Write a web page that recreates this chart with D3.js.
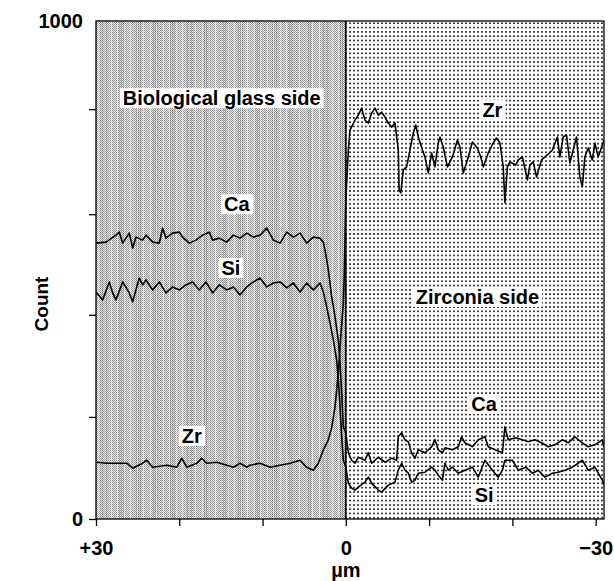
<!DOCTYPE html>
<html>
<head>
<meta charset="utf-8">
<script src="https://cdn.jsdelivr.net/npm/d3@7"></script>
<style>
  body { margin: 0; background: #fff; }
  text { font-family: "Liberation Sans", Arial, sans-serif; font-weight: bold; fill: #000; }
</style>
</head>
<body>
<svg id="chart" width="614" height="581"></svg>
<script>
// --- data (distance in µm, counts) ---
const xTicks = [30, 20, 10, 0, -10, -20, -30];
const xTickText = ["+30", "", "", "0", "", "", "\u221230"];
const yTicks = [0, 205, 410, 612, 823, 1000];
const yTickText = ["0", "", "", "", "", "1000"];

const ca = [
  [30.0,554],[28.8,556],[27.6,570],[27.2,576],[26.8,554],[26.0,574],[25.6,544],[25.2,566],[24.4,560],[24.0,570],
  [23.2,556],[22.4,554],[22.0,584],[21.6,564],[20.8,574],[20.0,576],[19.6,566],[18.8,554],[18.0,560],[17.2,570],
  [16.4,576],[16.0,560],[15.2,564],[14.3,556],[13.5,570],[12.7,564],[11.9,574],[11.1,566],[10.3,570],[9.5,584],
  [8.7,560],[7.9,554],[7.1,576],[6.3,566],[5.5,574],[4.7,554],[3.9,566],[3.1,564],[2.7,556],[2.5,540],
  [2.1,500],[1.7,446],[1.3,406],[0.9,359],[0.7,313],[0.5,253],[0.3,185],
  [0,173],[-0.3,133],[-0.7,118],[-1.1,112],[-1.5,124],[-2.3,118],[-2.7,133],[-3.1,112],[-3.9,124],[-4.7,114],
  [-5.5,122],[-6.1,118],[-6.3,165],[-6.7,173],[-7.1,159],[-7.5,155],[-7.9,133],[-8.3,122],[-8.7,139],[-9.5,133],
  [-10.3,145],[-10.7,159],[-11.1,139],[-11.6,133],[-11.9,143],[-12.8,139],[-13.5,145],[-13.9,165],[-14.3,153],
  [-15.2,145],[-15.9,159],[-16.7,165],[-17.1,145],[-17.9,139],[-18.8,133],[-19.1,185],[-19.5,159],[-20.4,163],
  [-21.2,159],[-21.9,155],[-22.7,159],[-23.5,153],[-24.3,145],[-25.1,149],[-26.0,159],[-26.7,153],[-27.5,165],
  [-28.4,153],[-29.1,145],[-29.9,149],[-30.8,159],[-31.0,145]
];

const si = [
  [30.0,456],[29.2,440],[28.4,476],[28.0,454],[27.6,440],[26.8,476],[26.0,454],[25.6,436],[24.8,484],[24.4,470],
  [24.0,480],[23.2,460],[22.4,476],[21.6,454],[20.8,466],[20.0,460],[19.2,470],[18.4,476],[17.6,460],[16.8,476],
  [16.0,454],[15.2,470],[14.3,460],[13.5,466],[12.7,450],[11.9,466],[11.1,476],[10.3,484],[9.5,466],[8.7,474],
  [7.9,476],[7.1,464],[6.3,474],[5.5,456],[4.7,474],[3.9,460],[3.1,474],[2.7,456],[2.3,426],[1.9,394],
  [1.5,359],[1.1,319],[0.9,279],[0.7,225],[0.5,165],[0.3,118],
  [0,104],[-0.3,72],[-0.7,62],[-1.1,58],[-1.5,64],[-2.3,74],[-2.7,84],[-3.1,72],[-3.9,58],[-4.3,54],
  [-5.1,68],[-5.9,74],[-6.3,98],[-6.7,112],[-7.1,98],[-7.5,92],[-7.9,74],[-8.3,78],[-8.7,92],[-9.5,94],
  [-10.3,104],[-10.7,98],[-11.1,88],[-11.6,78],[-11.9,112],[-12.3,98],[-12.8,104],[-13.5,92],[-14.3,98],
  [-15.2,104],[-15.9,84],[-16.7,118],[-17.6,98],[-18.3,84],[-18.8,98],[-19.1,118],[-20.0,118],[-20.7,98],
  [-21.6,104],[-22.4,92],[-23.1,98],[-23.9,84],[-24.8,92],[-25.5,94],[-26.3,98],[-27.2,104],[-27.9,112],
  [-28.4,118],[-29.1,98],[-29.9,104],[-30.8,78],[-31.0,68]
];

const zr = [
  [29.9,114],[28.7,112],[27.5,112],[26.3,112],[25.6,102],[24.4,112],[23.9,118],[23.2,104],[21.5,108],[20.3,104],
  [19.7,122],[19.1,104],[17.9,112],[17.3,122],[16.7,112],[15.5,114],[14.3,108],[13.5,104],[12.7,112],[11.9,104],
  [11.5,108],[10.3,112],[9.1,104],[7.9,108],[6.7,112],[5.5,118],[4.7,104],[3.9,98],[3.3,112],[2.7,139],
  [2.1,159],[1.7,183],[1.3,225],[0.9,293],[0.7,345],[0.3,434],[0.2,486],
  [0.0,640],[-0.3,741],[-0.5,781],[-1.1,801],[-1.5,811],[-1.9,825],[-2.3,801],[-2.7,795],[-3.1,815],[-3.5,825],
  [-3.9,811],[-4.3,817],[-4.7,807],[-5.1,795],[-5.5,787],[-5.9,795],[-6.3,741],[-6.4,661],[-6.6,655],[-6.9,701],
  [-7.3,707],[-7.7,741],[-8.1,775],[-8.4,791],[-8.7,767],[-9.2,741],[-9.5,727],[-9.9,695],[-10.3,735],[-10.7,707],
  [-11.1,755],[-11.3,767],[-11.7,747],[-12.2,707],[-12.8,727],[-13.4,761],[-13.7,747],[-14.1,695],[-14.6,721],
  [-15.2,757],[-15.8,745],[-16.2,727],[-16.5,707],[-17.1,735],[-17.7,755],[-18.1,765],[-18.5,755],[-18.9,707],
  [-19.1,635],[-19.4,707],[-19.7,717],[-20.4,711],[-20.7,721],[-21.2,727],[-21.8,681],[-22.1,711],[-22.5,717],
  [-22.9,687],[-23.5,721],[-24.2,731],[-24.8,741],[-25.4,767],[-25.7,727],[-26.1,767],[-26.5,771],[-26.9,715],
  [-27.3,741],[-27.7,767],[-28.1,687],[-28.4,667],[-28.7,727],[-29.1,745],[-29.6,721],[-29.9,755],[-30.3,727],
  [-30.8,751],[-31.0,761]
];

// annotation labels: text and where they sit (µm, counts)
const noteText = ["Biological glass side", "Zr", "Ca", "Si", "Zr", "Zirconia side", "Ca", "Si"];
const noteAt = [[14.9,845],[-17.6,821],[13.1,632],[13.8,504],[18.5,167],[-15.8,446],[-16.6,231],[-16.6,48]];

// --- layout ---
const svg = d3.select("#chart");
const x = d3.scaleLinear().domain([30, -31]).range([96, 604]);
const y = d3.scaleLinear().domain([0, 1000]).range([519, 21]);

const defs = svg.append("defs");

// fine halftone for the glass side
const pg = defs.append("pattern").attr("id", "glass").attr("patternUnits", "userSpaceOnUse")
  .attr("width", 2).attr("height", 2);
pg.append("rect").attr("width", 2).attr("height", 2).attr("fill", "#ececec");
pg.append("rect").attr("x", 0).attr("y", 0).attr("width", 1).attr("height", 1).attr("fill", "#8c8c8c");
pg.append("rect").attr("x", 1).attr("y", 1).attr("width", 1).attr("height", 1).attr("fill", "#9c9c9c");

// dot screen for the zirconia side
const pz = defs.append("pattern").attr("id", "zirc").attr("patternUnits", "userSpaceOnUse")
  .attr("width", 4).attr("height", 4.3);
pz.append("rect").attr("width", 4).attr("height", 4.3).attr("fill", "#fff");
pz.append("rect").attr("x", 1).attr("y", 1).attr("width", 2).attr("height", 1.6).attr("fill", "#333");

defs.append("clipPath").attr("id", "plot")
  .append("rect").attr("x", x(30)).attr("y", y(1000)).attr("width", x(-31) - x(30)).attr("height", y(0) - y(1000));

const bg = svg.append("g").attr("shape-rendering", "crispEdges");
bg.append("rect").attr("x", x(30)).attr("y", y(1000)).attr("width", x(0) - x(30)).attr("height", y(0) - y(1000))
  .attr("fill", "url(#glass)");
bg.append("rect").attr("x", x(0)).attr("y", y(1000)).attr("width", x(-31) - x(0)).attr("height", y(0) - y(1000))
  .attr("fill", "url(#zirc)");

// vertical scan streaks in the glass side
const cols = d3.range(Math.ceil(x(30)), Math.floor(x(0)));
bg.selectAll(".streak").data(cols.filter(c => (c * 7919) % 13 < 2)).join("rect")
  .attr("x", d => d).attr("y", y(1000)).attr("width", 1).attr("height", y(0) - y(1000))
  .attr("fill", "#fff").attr("opacity", 0.5);
bg.selectAll(".dark").data(cols.filter(c => (c * 104729) % 17 < 3)).join("rect")
  .attr("x", d => d).attr("y", y(1000)).attr("width", 1).attr("height", y(0) - y(1000))
  .attr("fill", "#000").attr("opacity", 0.12);

// interface line
svg.append("line").attr("x1", x(0)).attr("x2", x(0)).attr("y1", y(1000)).attr("y2", y(0))
  .attr("stroke", "#000").attr("stroke-width", 1.6);

// traces
const line = d3.line().x(d => x(d[0])).y(d => y(d[1]));
const traces = svg.append("g").attr("clip-path", "url(#plot)");
[ca, si, zr].forEach(s => {
  traces.append("path").datum(s).attr("d", line)
    .attr("fill", "none").attr("stroke", "#000").attr("stroke-width", 1.6).attr("stroke-linejoin", "round");
});

// labels on white boxes
noteText.forEach((t, i) => {
  const g = svg.append("g");
  const tx = g.append("text").attr("x", x(noteAt[i][0])).attr("y", y(noteAt[i][1]))
    .attr("text-anchor", "middle").attr("dominant-baseline", "central")
    .style("font-size", "20px").text(t);
  const b = tx.node().getBBox();
  g.insert("rect", "text").attr("x", b.x - 3).attr("y", b.y + 1).attr("width", b.width + 6).attr("height", b.height - 2)
    .attr("fill", "#fff");
});

// frame
svg.append("rect").attr("x", x(30)).attr("y", y(1000)).attr("width", x(-31) - x(30)).attr("height", y(0) - y(1000))
  .attr("fill", "none").attr("stroke", "#000").attr("stroke-width", 1.3);

// axes
const xAxis = svg.append("g").attr("transform", `translate(0,${y(0)})`)
  .call(d3.axisBottom(x).tickValues(xTicks).tickSize(7).tickPadding(15)
    .tickFormat((d, i) => xTickText[i]));
const yAxis = svg.append("g").attr("transform", `translate(${x(30)},0)`)
  .call(d3.axisLeft(y).tickValues(yTicks).tickSize(7).tickPadding(6)
    .tickFormat((d, i) => yTickText[i]));
[xAxis, yAxis].forEach(a => {
  a.select(".domain").remove();
  a.selectAll("line").attr("stroke-width", 1.3);
  a.selectAll("text").style("font-size", "20px").attr("font-family", null);
});
yAxis.selectAll(".tick").filter(d => d === 1000).select("line").remove();

svg.append("text").attr("x", x(0)).attr("y", 577).attr("text-anchor", "middle")
  .style("font-size", "20px").text("\u00b5m");
svg.append("text").attr("transform", "translate(48,304) rotate(-90)").attr("text-anchor", "middle")
  .style("font-size", "19px").text("Count");
</script>
</body>
</html>
